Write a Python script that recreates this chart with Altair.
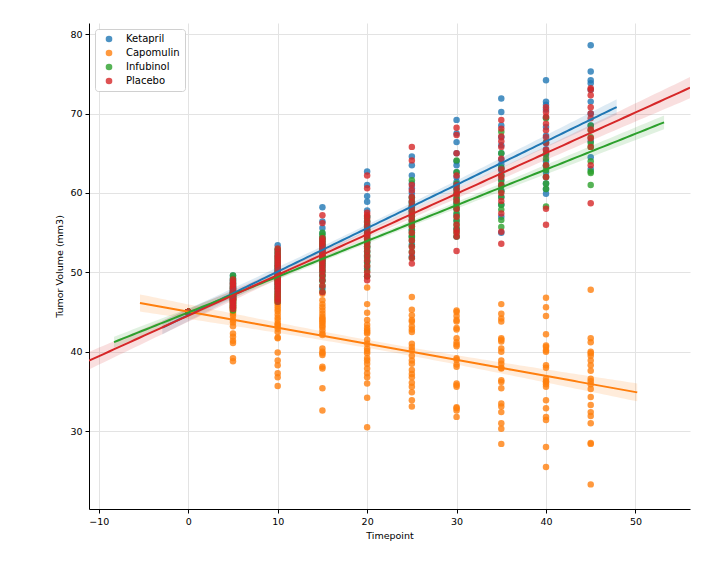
import altair as alt
import numpy as np
import pandas as pd

drugs = ["Ketapril", "Capomulin", "Infubinol", "Placebo"]
colors = ["#1f77b4", "#ff7f0e", "#2ca02c", "#d62728"]

ketapril = {
    0: [45.0] * 25,
    5: [45.5, 45.8, 46.0, 46.2, 46.4, 46.6, 46.8, 47.0, 47.1, 47.2, 47.3, 47.4, 47.5, 47.6, 47.8, 48.0, 48.2, 48.4, 48.6, 48.8, 49.0, 49.3, 49.6],
    10: [46.6, 47.0, 47.4, 47.8, 48.1, 48.4, 48.7, 49.0, 49.2, 49.4, 49.6, 49.8, 50.0, 50.3, 50.6, 50.9, 51.2, 51.6, 52.0, 52.4, 52.8, 53.4],
    15: [48.0, 49.0, 49.6, 50.2, 50.7, 51.1, 51.5, 51.9, 52.2, 52.5, 52.8, 53.1, 53.5, 53.9, 54.3, 54.9, 55.6, 56.4, 58.2],
    20: [49.5, 50.5, 51.3, 52.0, 52.6, 53.2, 53.7, 54.2, 54.6, 55.0, 55.4, 55.9, 56.4, 57.0, 57.8, 58.9, 59.6, 61.0, 62.7],
    25: [52.0, 53.5, 54.5, 55.3, 56.0, 56.5, 57.0, 57.4, 57.8, 58.2, 58.6, 59.0, 59.5, 60.0, 60.6, 61.2, 62.2, 63.5, 64.6],
    30: [54.5, 55.5, 56.5, 57.3, 58.0, 58.7, 59.3, 59.9, 60.4, 60.9, 61.4, 62.0, 62.6, 63.5, 64.0, 65.0, 66.4, 67.5, 69.2],
    35: [55.0, 57.0, 58.5, 59.5, 60.3, 61.0, 61.7, 62.3, 62.9, 63.1, 63.6, 64.2, 65.0, 66.0, 67.0, 68.5, 70.2, 71.9],
    40: [59.9, 60.5, 61.2, 62.0, 62.6, 63.4, 64.0, 64.8, 65.5, 66.3, 67.2, 68.3, 69.5, 70.5, 71.1, 71.5, 74.2],
    45: [63.0, 64.5, 66.5, 68.5, 70.0, 71.5, 73.0, 73.8, 74.2, 75.3, 78.6],
}

capomulin = {
    0: [45.0] * 25,
    5: [46.8, 46.6, 46.5, 46.3, 46.2, 46.0, 45.9, 45.8, 45.6, 45.5, 45.4, 45.3, 45.2, 45.0, 44.8, 44.5, 44.0, 43.7, 43.2, 42.3, 41.9, 41.4, 41.1, 39.2, 38.8],
    10: [47.2, 47.0, 46.7, 46.5, 46.2, 46.0, 45.7, 45.4, 45.1, 44.7, 44.3, 44.0, 43.6, 43.4, 43.2, 42.9, 42.5, 41.8, 41.7, 39.9, 38.9, 38.3, 37.3, 36.8, 35.7],
    15: [47.3, 46.5, 46.0, 45.6, 45.2, 44.8, 44.4, 44.2, 44.0, 43.8, 43.6, 43.3, 43.1, 42.7, 42.3, 42.1, 40.4, 40.0, 39.8, 39.6, 38.1, 37.9, 35.4, 32.6],
    20: [48.1, 46.0, 44.9, 44.0, 43.4, 43.0, 42.7, 42.5, 42.3, 41.5, 41.0, 40.4, 40.1, 39.8, 39.2, 38.9, 38.5, 37.9, 37.3, 36.8, 36.0, 34.2, 30.5],
    25: [46.9, 45.3, 44.6, 44.0, 43.8, 43.2, 42.8, 42.5, 41.0, 40.6, 40.2, 39.5, 38.9, 38.5, 37.7, 37.2, 36.8, 36.1, 35.6, 34.9, 33.9, 33.1],
    30: [45.2, 45.0, 44.5, 44.0, 43.8, 43.0, 42.8, 41.7, 41.2, 40.9, 40.7, 39.2, 39.0, 38.4, 38.1, 36.0, 35.8, 35.6, 33.0, 32.9, 32.6, 31.8],
    35: [46.0, 44.8, 44.2, 43.8, 41.7, 41.5, 41.3, 40.4, 40.0, 38.9, 38.5, 38.0, 37.9, 36.4, 36.2, 35.4, 33.5, 33.1, 32.4, 31.0, 30.3, 28.4],
    40: [46.8, 45.6, 44.5, 42.2, 40.8, 40.6, 40.2, 40.0, 38.0, 38.3, 36.6, 36.3, 35.9, 36.2, 35.6, 33.9, 32.9, 31.8, 31.4, 28.0, 25.5],
    45: [47.8, 41.7, 41.2, 40.0, 39.8, 39.5, 38.3, 38.9, 37.6, 36.6, 36.3, 35.9, 35.3, 34.3, 33.3, 32.4, 31.9, 31.0, 28.5, 28.4, 23.3],
}

infubinol = {
    0: [45.0] * 25,
    5: [45.2, 45.5, 45.7, 45.9, 46.1, 46.3, 46.5, 46.6, 46.7, 46.8, 46.9, 47.0, 47.1, 47.2, 47.3, 47.4, 47.5, 47.7, 47.9, 48.1, 48.3, 48.6, 48.9, 49.2, 49.6],
    10: [46.3, 46.8, 47.2, 47.6, 48.0, 48.3, 48.6, 48.9, 49.1, 49.3, 49.5, 49.7, 50.0, 50.3, 50.6, 50.9, 51.3, 51.7, 52.1, 52.5, 52.9],
    15: [47.6, 48.3, 48.9, 49.4, 49.8, 50.2, 50.6, 51.0, 51.3, 51.6, 51.9, 52.2, 52.5, 52.8, 53.1, 53.4, 53.7, 54.0, 54.3, 54.6, 55.0],
    20: [49.5, 50.2, 50.8, 51.3, 51.8, 52.2, 52.6, 53.0, 53.3, 53.6, 53.9, 54.2, 54.5, 54.8, 55.1, 55.4, 55.7, 56.0, 56.5, 57.0],
    25: [51.8, 52.6, 53.3, 54.0, 54.4, 54.6, 55.0, 55.4, 55.8, 56.2, 56.6, 57.0, 57.4, 57.8, 58.3, 58.8, 59.4, 61.6],
    30: [54.5, 55.0, 55.5, 56.0, 56.5, 57.0, 57.5, 58.0, 58.4, 58.8, 59.2, 59.6, 60.0, 60.6, 61.2, 62.6, 64.1],
    35: [55.7, 56.6, 57.9, 58.5, 59.5, 60.2, 60.9, 61.5, 62.2, 63.2, 65.0, 67.7],
    40: [58.3, 60.5, 61.2, 62.0, 62.9, 63.5, 64.3, 65.0, 66.4, 69.4],
    45: [61.0, 62.5, 62.7, 64.0, 65.8, 66.3, 67.0, 67.9, 68.5],
}

placebo = {
    0: [45.0] * 25,
    5: [45.4, 45.6, 45.8, 46.0, 46.2, 46.4, 46.5, 46.6, 46.7, 46.8, 46.9, 47.0, 47.1, 47.2, 47.3, 47.4, 47.6, 47.8, 48.0, 48.2, 48.4, 48.6, 48.8, 49.1],
    10: [46.3, 46.6, 47.0, 47.4, 47.7, 48.0, 48.3, 48.6, 48.8, 49.0, 49.2, 49.4, 49.6, 49.8, 50.1, 50.4, 50.7, 51.0, 51.3, 51.6, 51.9, 52.2, 52.6, 53.0],
    15: [47.5, 48.3, 49.0, 49.6, 50.1, 50.5, 50.9, 51.3, 51.6, 51.9, 52.2, 52.5, 52.8, 53.1, 53.4, 53.7, 54.0, 54.3, 56.2, 57.2],
    20: [49.0, 49.5, 50.0, 50.8, 51.5, 52.1, 52.7, 53.3, 53.8, 54.3, 54.8, 55.3, 55.8, 56.3, 56.8, 57.2, 57.5, 60.6, 62.2],
    25: [51.1, 51.8, 52.5, 53.2, 54.0, 55.0, 55.8, 56.5, 57.1, 57.7, 58.3, 58.9, 59.5, 60.3, 61.0, 64.1, 65.8],
    30: [52.7, 54.5, 55.0, 55.3, 56.0, 57.0, 58.0, 59.0, 59.8, 60.4, 61.0, 62.2, 65.0, 67.3, 68.2],
    35: [53.6, 55.1, 57.4, 59.0, 60.0, 61.0, 62.0, 63.0, 64.3, 65.8, 66.5, 67.1, 68.1, 69.2],
    40: [56.0, 58.0, 62.0, 63.5, 65.4, 66.3, 67.0, 67.9, 68.7, 69.6, 70.2, 70.8],
    45: [58.7, 63.5, 65.8, 66.9, 68.0, 69.4, 70.0, 70.8, 72.3, 73.0, 73.2],
}

# x-range over which each fitted line is drawn (as in the reference)
line_extent = {
    "Ketapril": (-2.9, 47.9),
    "Capomulin": (-5.4, 50.2),
    "Infubinol": (-8.3, 53.2),
    "Placebo": (-11.1, 56.1),
}

x_domain = [-11.1, 56.1]
y_domain = [20.2, 81.4]

series = {"Ketapril": ketapril, "Capomulin": capomulin, "Infubinol": infubinol, "Placebo": placebo}

rows = []
for drug in drugs:
    for t, vals in series[drug].items():
        for v in vals:
            rows.append({"Drug": drug, "Timepoint": t, "Volume": v})
points = pd.DataFrame(rows)

fit_rows = []
for drug in drugs:
    d = points[points.Drug == drug]
    x = d.Timepoint.to_numpy(float)
    y = d.Volume.to_numpy(float)
    b, a = np.polyfit(x, y, 1)
    resid = y - (a + b * x)
    n = len(x)
    s = np.sqrt((resid ** 2).sum() / (n - 2))
    sxx = ((x - x.mean()) ** 2).sum()
    lo, hi = line_extent[drug]
    for xg in np.linspace(lo, hi, 120):
        yhat = a + b * xg
        se = s * np.sqrt(1.0 / n + (xg - x.mean()) ** 2 / sxx)
        fit_rows.append({"Drug": drug, "Timepoint": xg, "fit": yhat,
                         "lo": yhat - 1.96 * se, "hi": yhat + 1.96 * se})
fits = pd.DataFrame(fit_rows)

color_scale = alt.Scale(domain=drugs, range=colors)
xs = alt.Scale(domain=x_domain, nice=False, zero=False)
ys = alt.Scale(domain=y_domain, nice=False, zero=False)

x_axis = alt.Axis(values=[-10, 0, 10, 20, 30, 40, 50], title="Timepoint")
y_axis = alt.Axis(values=[30, 40, 50, 60, 70, 80], title="Tumor Volume (mm3)")

pts = alt.Chart(points).mark_circle(size=42, opacity=0.8, clip=True).encode(
    x=alt.X("Timepoint:Q", scale=xs, axis=x_axis),
    y=alt.Y("Volume:Q", scale=ys, axis=y_axis),
    color=alt.Color("Drug:N", scale=color_scale, sort=drugs,
                    legend=alt.Legend(title=None, orient="top-left", symbolType="circle")),
)

band = alt.Chart(fits).mark_area(opacity=0.15, clip=True).encode(
    x=alt.X("Timepoint:Q", scale=xs),
    y=alt.Y("lo:Q", scale=ys),
    y2="hi:Q",
    color=alt.Color("Drug:N", scale=color_scale, legend=None),
    detail="Drug:N",
)

line = alt.Chart(fits).mark_line(strokeWidth=2, clip=True).encode(
    x=alt.X("Timepoint:Q", scale=xs),
    y=alt.Y("fit:Q", scale=ys),
    color=alt.Color("Drug:N", scale=color_scale, legend=None),
    detail="Drug:N",
)

chart = alt.layer(pts, band, line).properties(
    width=601, height=486,
    autosize=alt.AutoSizeParams(type="none"),
    padding={"left": 81, "top": 15, "right": 20, "bottom": 50},
).configure_view(stroke=None).configure_axis(
    grid=True, gridColor="#e3e3e3", gridWidth=1,
    domainColor="black", domainWidth=1,
    tickColor="black", tickSize=4,
    labelColor="black", labelFont="DejaVu Sans", labelFontSize=9.5, labelPadding=3,
    titleColor="black", titleFont="DejaVu Sans", titleFontSize=9.5,
    titleFontWeight="normal", titlePadding=5,
).configure_legend(
    labelFont="DejaVu Sans", labelFontSize=10, labelColor="black",
    symbolSize=44, symbolOpacity=0.8, symbolStrokeWidth=0, symbolOffset=4,
    strokeColor="#d0d0d0", fillColor="white", cornerRadius=3,
    padding=5, offset=6, rowPadding=4, labelOffset=12,
)

chart.save("out.html", embed_options={"renderer": "svg", "actions": False})
